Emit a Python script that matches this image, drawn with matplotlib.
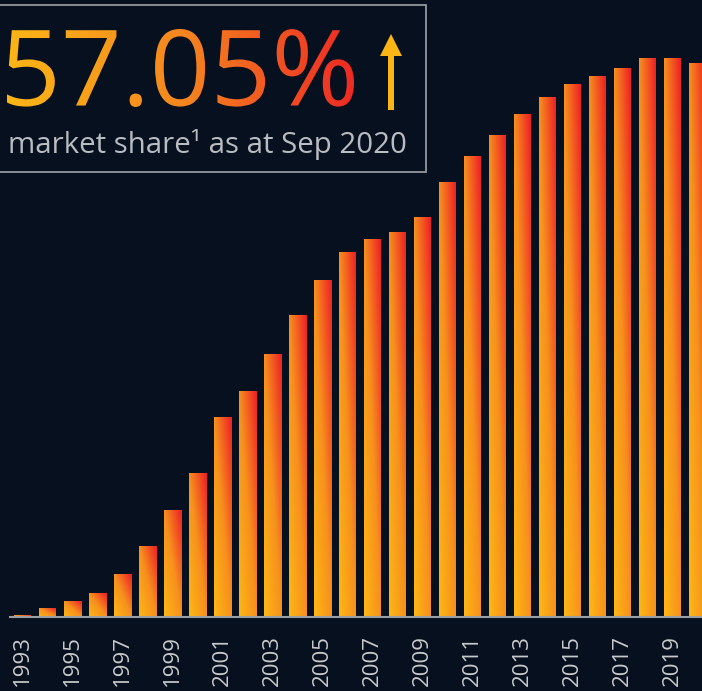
import numpy as np
import matplotlib
matplotlib.use("Agg")
import matplotlib.pyplot as plt
from matplotlib.colors import LinearSegmentedColormap
from matplotlib.textpath import TextPath
from matplotlib.patches import PathPatch, Rectangle, Polygon
from matplotlib.font_manager import FontProperties
from matplotlib.transforms import Affine2D

years = list(range(1993, 2021))
share = [0.2, 0.9, 1.6, 2.4, 4.4, 7.3, 11.0, 14.8, 20.5, 23.2, 27.0, 31.0, 34.7, 37.5,
         38.9, 39.6, 41.1, 44.7, 47.4, 49.6, 51.8, 53.5, 54.8, 55.7, 56.5, 57.5, 57.5, 57.05]
tick_years = years[::2]
headline = "57.05%"
subtitle = "market share\u00b9 as at Sep 2020"

bg = "#06101e"
yellow = "#fdb714"
orange = "#f7901e"
red = "#ee1f25"
cmap = LinearSegmentedColormap.from_list("grad", [yellow, orange, red])

W, H = 702, 691
base = 617  # baseline, pixels from top
fig = plt.figure(figsize=(W / 100, H / 100), dpi=100, facecolor=bg)
ax = fig.add_axes([0, (H - base) / H, 1, base / H])
ax.set_facecolor(bg)

# first bar centre at x=22.5, 25px per year
px_per_pct = 9.71
xlim = (1993 - 22.5 / 25, 1993 + (W - 22.5) / 25)
ylim = (0, base / px_per_pct)

bars = ax.bar(years, share, width=0.68, color="none", edgecolor="none")
u, v = np.meshgrid(np.linspace(0, 1, 64), np.linspace(0, 1, 64))
grad = (u + v) / 2
for b in bars:
    x0, y0 = b.get_x(), b.get_y()
    ax.imshow(grad, cmap=cmap, origin="lower", aspect="auto", vmin=0, vmax=1,
              extent=[x0, x0 + b.get_width(), y0, y0 + b.get_height()],
              interpolation="bilinear", zorder=2)
ax.set_xlim(*xlim)
ax.set_ylim(*ylim)

ax.axhline(0, xmin=10 / W, xmax=1, color="#9ba0a6", lw=1.5, zorder=3, clip_on=False)

for s in ax.spines.values():
    s.set_visible(False)
ax.set_yticks([])
ax.set_xticks(tick_years)
ax.set_xticklabels([str(y) for y in tick_years], rotation=90, fontsize=16,
                   color="#c9cacc", family="Open Sans")
ax.tick_params(axis="x", length=0, pad=13)

# overlay in pixel coordinates (y up)
ov = fig.add_axes([0, 0, 1, 1])
ov.axis("off")
ov.patch.set_visible(False)

ov.add_patch(Rectangle((-5, H - 172), 431, 167, fill=False, edgecolor="#9ea3a8", lw=1.2))

# headline with horizontal gradient, fitted to its ink box
fp = FontProperties(family="Open Sans")
tp = TextPath((0, 0), headline, size=108, prop=fp)
e = tp.get_extents()
tx0, tx1, ty0, ty1 = 7, 354, H - 107, H - 29
fit = Affine2D().translate(-e.x0, -e.y0).scale((tx1 - tx0) / e.width, (ty1 - ty0) / e.height).translate(tx0, ty0)
tp = fit.transform_path(tp)
clip = PathPatch(tp, transform=ov.transData, facecolor="none", edgecolor="none")
ov.add_patch(clip)
hgrad = np.linspace(0, 1, 256).reshape(1, -1)
img = ov.imshow(hgrad, cmap=LinearSegmentedColormap.from_list("h", ["#fbb616", "#f5871f", "#ee2a24"]),
                aspect="auto", extent=[tx0, tx1, ty0 - 2, ty1 + 2], origin="lower")
img.set_clip_path(clip)
ov.set_xlim(0, W)
ov.set_ylim(0, H)

ov.add_patch(Polygon([(380, H - 56), (391, H - 34), (402, H - 56), (394, H - 56),
                      (394, H - 110), (388, H - 110), (388, H - 56)],
                     closed=True, facecolor="#fbb616", edgecolor="none"))

ov.text(8, H - 153, subtitle, fontsize=21.2, color="#b9bcc0", family="Open Sans",
        va="baseline", ha="left")

fig.savefig("out.png", dpi=100, facecolor=bg)
